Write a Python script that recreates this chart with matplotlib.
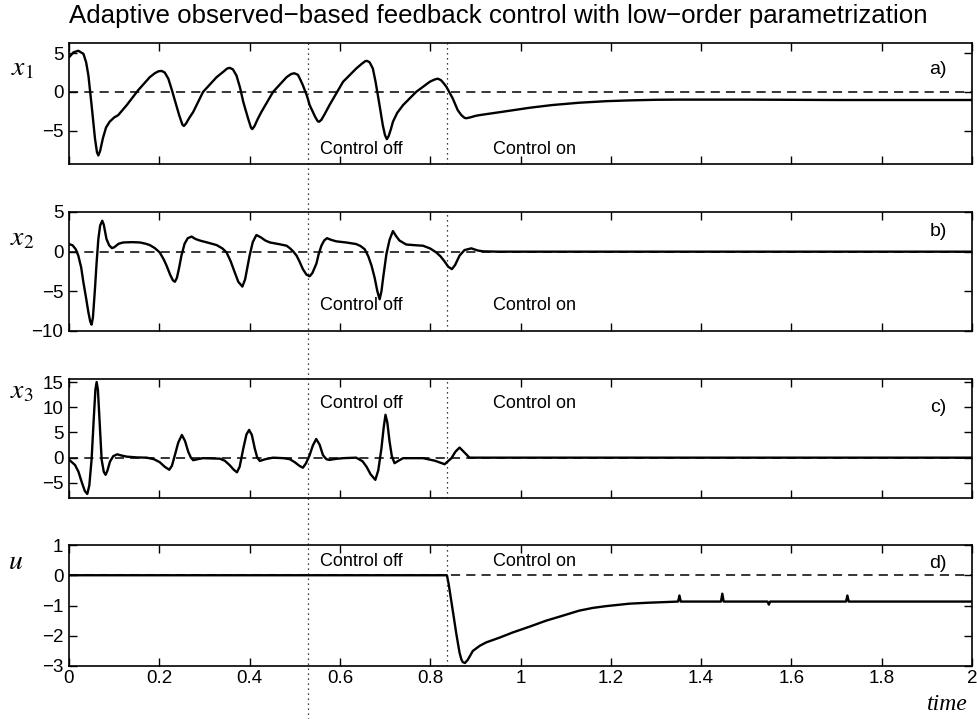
import matplotlib
matplotlib.use("Agg")
import matplotlib.pyplot as plt
from matplotlib.lines import Line2D
from matplotlib.transforms import blended_transform_factory

plt.rcParams['font.family'] = ['Liberation Sans', 'DejaVu Sans']
plt.rcParams['mathtext.fontset'] = 'stix'

# ---------------- data ----------------
t_x1 = [0, 0.010, 0.0206, 0.032, 0.038, 0.043, 0.050, 0.0575, 0.062, 0.065, 0.069, 0.075,
        0.082, 0.090, 0.100, 0.109, 0.128, 0.153, 0.179, 0.190, 0.198, 0.205, 0.212, 0.220,
        0.227, 0.2345, 0.244, 0.251, 0.2544, 0.259, 0.266, 0.275, 0.297, 0.327, 0.342, 0.350,
        0.356, 0.363, 0.371, 0.379, 0.386, 0.397, 0.403, 0.406, 0.411, 0.418, 0.426, 0.452,
        0.482, 0.492, 0.499, 0.507, 0.513, 0.518, 0.527, 0.533, 0.545, 0.551, 0.554, 0.559,
        0.566, 0.577, 0.607, 0.636, 0.648, 0.656, 0.660, 0.666, 0.673, 0.679, 0.684, 0.690,
        0.695, 0.700, 0.704, 0.708, 0.713, 0.7175, 0.727, 0.740, 0.769, 0.799, 0.810, 0.817,
        0.824, 0.830, 0.836, 0.850, 0.861, 0.869, 0.876, 0.880, 0.888, 0.900, 0.909, 0.961,
        1.02, 1.07, 1.13, 1.19, 1.24, 1.30, 1.35, 1.5, 1.7, 2.0]
x1 = [4.45, 5.1, 5.3, 4.9, 3.8, 2.1, -1.7, -6.0, -7.8, -8.2, -7.6, -6.0,
      -4.6, -3.85, -3.3, -3.0, -1.7, 0.2, 1.9, 2.4, 2.65, 2.7, 2.5, 1.7,
      0.4, -1.1, -3.0, -4.2, -4.4, -4.1, -3.4, -2.6, 0.0, 1.9, 2.6, 3.0,
      3.1, 2.9, 2.1, 0.5, -1.3, -3.5, -4.6, -4.8, -4.4, -3.5, -2.6, 0.0,
      1.9, 2.3, 2.4, 2.2, 1.5, 0.85, -0.5, -1.7, -3.2, -3.8, -3.85, -3.6,
      -2.9, -1.7, 1.3, 3.0, 3.6, 3.95, 4.0, 3.8, 3.0, 1.3, -0.4, -2.5,
      -4.3, -5.6, -6.1, -5.7, -4.8, -3.85, -2.7, -1.7, 0.0, 1.3, 1.6, 1.7,
      1.5, 1.1, 0.64, -0.86, -2.36, -3.0, -3.35, -3.4, -3.3, -3.1, -3.0, -2.56,
      -2.05, -1.7, -1.4, -1.2, -1.1, -1.02, -1.0, -1.0, -1.05, -1.05]

t_x2 = [0, 0.008, 0.015, 0.0206, 0.027, 0.0317, 0.038, 0.0428, 0.047, 0.050, 0.053, 0.0575,
        0.061, 0.065, 0.069, 0.0737, 0.077, 0.083, 0.089, 0.095, 0.100, 0.110, 0.120, 0.140,
        0.157, 0.170, 0.179, 0.190, 0.201, 0.210, 0.216, 0.224, 0.230, 0.2345, 0.239, 0.244,
        0.249, 0.256, 0.263, 0.2715, 0.280, 0.290, 0.310, 0.327, 0.340, 0.349, 0.358, 0.367,
        0.375, 0.384, 0.390, 0.395, 0.400, 0.407, 0.415, 0.425, 0.435, 0.445, 0.465, 0.482,
        0.490, 0.497, 0.504, 0.511, 0.518, 0.526, 0.533, 0.539, 0.548, 0.553, 0.559, 0.565,
        0.5715, 0.580, 0.592, 0.615, 0.636, 0.646, 0.655, 0.663, 0.670, 0.677, 0.683, 0.688,
        0.692, 0.696, 0.703, 0.710, 0.7175, 0.724, 0.732, 0.747, 0.770, 0.784, 0.800, 0.8135,
        0.823, 0.832, 0.840, 0.848, 0.855, 0.865, 0.876, 0.891, 0.905, 0.917, 0.950, 2.0]
x2 = [0.96, 0.8, 0.3, -0.5, -2.0, -3.8, -5.9, -7.6, -8.8, -9.2, -8.3, -4.7,
      -1.5, 1.6, 3.3, 3.9, 3.4, 1.6, 0.8, 0.45, 0.55, 1.0, 1.16, 1.2,
      1.16, 1.0, 0.83, 0.45, -0.1, -1.0, -1.75, -2.9, -3.6, -3.8, -3.3, -2.0,
      -0.5, 1.0, 1.7, 1.9, 1.6, 1.4, 1.1, 0.83, 0.4, -0.1, -1.2, -2.6,
      -3.8, -4.4, -3.5, -2.0, -0.5, 1.2, 2.1, 1.8, 1.4, 1.16, 0.95, 0.75,
      0.4, 0.0, -0.5, -1.3, -2.2, -2.9, -3.1, -2.7, -1.5, -0.3, 0.75, 1.4,
      1.7, 1.5, 1.3, 1.15, 0.96, 0.7, 0.3, -0.6, -1.75, -3.3, -5.0, -6.0,
      -5.0, -3.2, -0.3, 1.5, 2.6, 2.0, 1.4, 0.9, 0.8, 0.75, 0.4, -0.1,
      -0.6, -1.25, -1.9, -2.2, -1.7, -0.5, 0.2, 0.42, 0.15, 0.04, 0.0, 0.0]

t_x3 = [0, 0.0133, 0.021, 0.028, 0.035, 0.0405, 0.045, 0.050, 0.0553, 0.0585, 0.0612, 0.064,
        0.067, 0.0723, 0.077, 0.081, 0.085, 0.0907, 0.098, 0.107, 0.115, 0.128, 0.150, 0.172,
        0.188, 0.201, 0.212, 0.222, 0.228, 0.2345, 0.242, 0.250, 0.257, 0.264, 0.270, 0.275,
        0.285, 0.297, 0.334, 0.345, 0.356, 0.365, 0.372, 0.378, 0.386, 0.393, 0.399, 0.405,
        0.4115, 0.417, 0.4226, 0.435, 0.452, 0.475, 0.489, 0.500, 0.510, 0.518, 0.525, 0.533,
        0.540, 0.5475, 0.555, 0.5625, 0.570, 0.577, 0.590, 0.607, 0.636, 0.650, 0.659, 0.668,
        0.6785, 0.685, 0.692, 0.697, 0.701, 0.705, 0.710, 0.715, 0.721, 0.730, 0.740, 0.784,
        0.810, 0.832, 0.847, 0.856, 0.865, 0.874, 0.887, 2.0]
x3 = [-0.4, -1.45, -2.8, -4.8, -6.6, -7.2, -5.5, -0.4, 8.5, 13.5, 15.0, 13.5,
      8.5, -0.4, -2.8, -3.4, -2.6, -0.8, 0.3, 0.67, 0.45, 0.2, 0.05, 0.0,
      -0.3, -0.9, -1.8, -2.4, -1.6, 0.5, 3.0, 4.5, 3.3, 1.2, 0.0, -0.5,
      -0.3, -0.1, -0.2, -0.6, -1.5, -2.4, -2.9, -1.8, 1.8, 4.6, 5.5, 4.5,
      1.8, 0.0, -0.65, -0.3, 0.0, -0.1, -0.3, -0.9, -1.6, -2.0, -1.1, 0.5,
      2.4, 3.7, 2.6, 0.5, -0.3, -0.45, -0.25, -0.1, 0.0, -0.7, -1.8, -3.3,
      -4.4, -2.5, 1.85, 6.0, 8.5, 7.0, 3.2, 0.3, -1.1, -0.6, -0.1, -0.1,
      -0.6, -1.3, -0.1, 1.2, 2.0, 1.2, 0.0, 0.0]

t_u = [0, 0.837, 0.841, 0.850, 0.858, 0.865, 0.869, 0.872, 0.877, 0.883, 0.8945, 0.910,
       0.924, 0.954, 0.983, 1.020, 1.057, 1.095, 1.130, 1.160, 1.190, 1.241, 1.280, 1.315,
       1.349, 1.352, 1.355, 1.400, 1.444, 1.447, 1.450, 1.547, 1.550, 1.553, 1.721, 1.724,
       1.727, 2.0]
u = [0.0, 0.0, -0.3, -1.17, -1.95, -2.56, -2.78, -2.87, -2.9, -2.8, -2.5, -2.33,
     -2.22, -2.06, -1.89, -1.7, -1.5, -1.33, -1.17, -1.08, -1.02, -0.94, -0.91, -0.89,
     -0.87, -0.67, -0.87, -0.87, -0.87, -0.61, -0.87, -0.87, -0.97, -0.87, -0.87, -0.67,
     -0.87, -0.87]

series = [(t_x1, x1), (t_x2, x2), (t_x3, x3), (t_u, u)]
ylabels = [r'$x_{\mathit{1}}$', r'$x_{\mathit{2}}$', r'$x_{\mathit{3}}$', r'$u$']
panel_tags = ['a)', 'b)', 'c)', 'd)']
ylims = [(-9.3, 6.3), (-10, 5), (-8.0, 15.6), (-3, 1)]
yticks = [[-5, 0, 5], [-10, -5, 0, 5], [-5, 0, 5, 10, 15], [-3, -2, -1, 0, 1]]
xticks = [0, 0.2, 0.4, 0.6, 0.8, 1, 1.2, 1.4, 1.6, 1.8, 2]
xticklabels = ['0', '0.2', '0.4', '0.6', '0.8', '1', '1.2', '1.4', '1.6', '1.8', '2']
t_switch_off = 0.530
t_switch_on = 0.837
title = 'Adaptive observed\u2212based feedback control with low\u2212order parametrization'

# ---------------- layout ----------------
W, H = 977, 719
fig = plt.figure(figsize=(W / 100, H / 100), dpi=100)
ax_px = [(43, 164), (212, 331), (379, 498), (545, 666)]
left_px, right_px = 69, 972
label_x_px = [22, 22, 22, 16]
label_y_px = [68, 238, 391, 562]
tag_y_px = [70, 232, 407, 563]
ctrl_y_px = [149, 306, 403, 561]

axes = []
for i, ((top, bot), (tt, yy)) in enumerate(zip(ax_px, series)):
    ax = fig.add_axes([left_px / W, 1 - bot / H, (right_px - left_px) / W, (bot - top) / H])
    axes.append(ax)
    ax.axhline(0, color='black', lw=1.1, ls=(0, (6, 4)), zorder=1)
    ax.plot(tt, yy, color='black', lw=1.7, zorder=3, solid_joinstyle='round')
    ax.axvline(t_switch_on, color='black', lw=0.9, ls=(0, (1, 3)), zorder=2)
    ax.set_xlim(0, 2)
    ax.set_ylim(*ylims[i])
    ax.set_yticks(yticks[i])
    ax.set_xticks(xticks)
    if i == 3:
        ax.set_xticklabels(xticklabels)
    else:
        ax.set_xticklabels([])
    ax.tick_params(direction='in', length=5.5, width=1.0, top=True, right=True,
                   labelsize=13.5, colors='black')
    ax.tick_params(axis='x', pad=3)
    ax.tick_params(axis='y', pad=4)
    for sp in ax.spines.values():
        sp.set_linewidth(1.2)
    fig.text(label_x_px[i] / W, 1 - label_y_px[i] / H, ylabels[i], fontsize=20,
             ha='center', va='center')
    fig.text(938 / W, 1 - tag_y_px[i] / H, panel_tags[i], fontsize=14,
             ha='center', va='center')
    yf = 1 - ctrl_y_px[i] / H
    trans = blended_transform_factory(ax.transData, fig.transFigure)
    fig.text(0.555, yf, 'Control off', fontsize=13, ha='left', va='center', transform=trans)
    fig.text(0.938, yf, 'Control on', fontsize=13, ha='left', va='center', transform=trans)

# long dotted line through all panels
transL = blended_transform_factory(axes[0].transData, fig.transFigure)
fig.add_artist(Line2D([t_switch_off, t_switch_off], [1 - 43 / H, 0.0], transform=transL,
                      color='black', lw=0.9, ls=(0, (1, 3))))

# title, fitted to target width
ttl = fig.text(498 / W, 1 - 16 / H, title, fontsize=15, ha='center', va='center')
fig.canvas.draw()
w = ttl.get_window_extent().width
ttl.set_fontsize(15 * 860 / w)

fig.text(947 / W, 1 - 705 / H, 'time', fontsize=17, style='italic',
         family='Liberation Serif', ha='center', va='center')

fig.savefig('out.png', dpi=100)
